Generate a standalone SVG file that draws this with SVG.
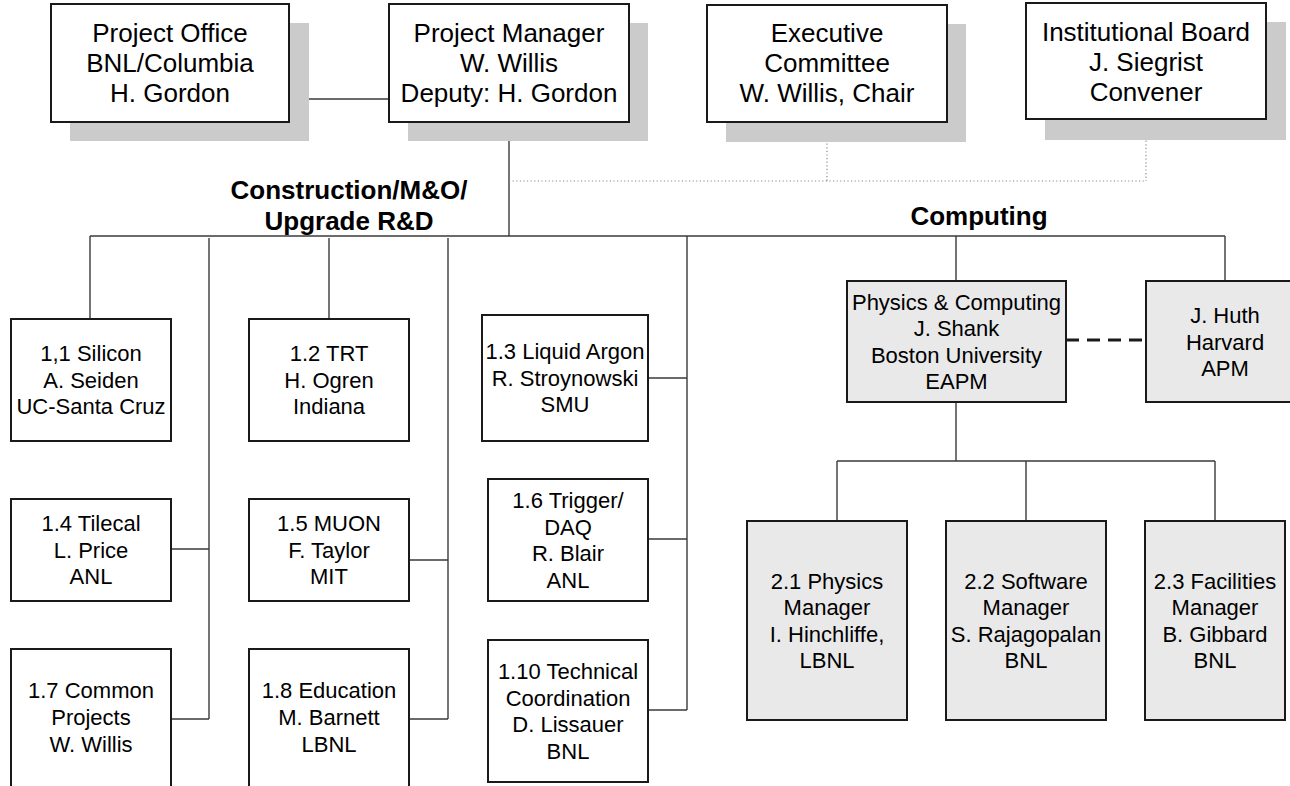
<svg xmlns="http://www.w3.org/2000/svg" width="1290" height="786" viewBox="0 0 1290 786">
<style>
.bg{fill:#ffffff}
.shadow{fill:#cbcbcb;stroke:none}
.box{fill:#ffffff;stroke:#1a1a1a;stroke-width:2}
.gbox{fill:#e9e9e9;stroke:#1a1a1a;stroke-width:2}
.t26{font-family:"Liberation Sans",Arial,sans-serif;font-size:26px;fill:#000;text-anchor:middle}
.t22{font-family:"Liberation Sans",Arial,sans-serif;font-size:22px;fill:#000;text-anchor:middle}
.hd{font-family:"Liberation Sans",Arial,sans-serif;font-size:26px;font-weight:bold;fill:#000;text-anchor:middle}
.ln{fill:none;stroke:#3a3a3a;stroke-width:1.4}
.dot{fill:none;stroke:#8a8a8a;stroke-width:1.2;stroke-dasharray:1.2 2.4}
.dash{fill:none;stroke:#1a1a1a;stroke-width:3;stroke-dasharray:13 8}
</style>
<rect class="bg" x="0" y="0" width="1290" height="786"/>

<g id="connectors">
  <path class="ln" d="M289 99 H389"/>
  <path class="ln" d="M509 122 V236"/>
  <path class="dot" d="M509 181 H1146 M827 122 V181 M1146 119 V181"/>
  <path class="ln" d="M90 236 H1225"/>
  <path class="ln" d="M90 236 V319"/>
  <path class="ln" d="M329 238 V319"/>
  <path class="ln" d="M209 238 V719 M171 549 H209 M171 719 H209"/>
  <path class="ln" d="M448 238 V719 M409 560 H448 M409 719 H448"/>
  <path class="ln" d="M687 236 V710 M648 378 H687 M648 539 H687 M648 710 H687"/>
  <path class="ln" d="M956 236 V281 M1225 236 V281"/>
  <path class="dash" d="M1066 340 H1146"/>
  <path class="ln" d="M956 402 V461 M837 461 H1215 M837 461 V521 M1026 461 V521 M1215 461 V521"/>
</g>

<g id="labels">
  <text class="hd" x="349" y="199">Construction/M&amp;O/</text>
  <text class="hd" x="349" y="230">Upgrade R&amp;D</text>
  <text class="hd" x="979" y="225">Computing</text>
</g>

<g id="project-office">
  <rect class="shadow" x="70" y="23" width="239" height="118"/>
  <rect class="box" x="51" y="4" width="238" height="118"/>
  <text class="t26" x="170" y="42">Project Office</text>
  <text class="t26" x="170" y="72">BNL/Columbia</text>
  <text class="t26" x="170" y="102">H. Gordon</text>
</g>

<g id="project-manager">
  <rect class="shadow" x="408" y="23" width="240" height="118"/>
  <rect class="box" x="389" y="4" width="240" height="118"/>
  <text class="t26" x="509" y="42">Project Manager</text>
  <text class="t26" x="509" y="72">W. Willis</text>
  <text class="t26" x="509" y="102">Deputy: H. Gordon</text>
</g>

<g id="executive-committee">
  <rect class="shadow" x="726" y="24" width="240" height="118"/>
  <rect class="box" x="707" y="5" width="240" height="117"/>
  <text class="t26" x="827" y="42">Executive</text>
  <text class="t26" x="827" y="72">Committee</text>
  <text class="t26" x="827" y="102">W. Willis, Chair</text>
</g>

<g id="institutional-board">
  <rect class="shadow" x="1045" y="22" width="241" height="118"/>
  <rect class="box" x="1026" y="3" width="240" height="116"/>
  <text class="t26" x="1146" y="41">Institutional Board</text>
  <text class="t26" x="1146" y="71">J. Siegrist</text>
  <text class="t26" x="1146" y="101">Convener</text>
</g>

<g id="silicon">
  <rect class="box" x="11" y="319" width="160" height="122"/>
  <text class="t22" x="91" y="361">1,1 Silicon</text>
  <text class="t22" x="91" y="388">A. Seiden</text>
  <text class="t22" x="91" y="414">UC-Santa Cruz</text>
</g>

<g id="trt">
  <rect class="box" x="249" y="319" width="160" height="122"/>
  <text class="t22" x="329" y="361">1.2 TRT</text>
  <text class="t22" x="329" y="388">H. Ogren</text>
  <text class="t22" x="329" y="414">Indiana</text>
</g>

<g id="liquid-argon">
  <rect class="box" x="482" y="315" width="166" height="126"/>
  <text class="t22" x="565" y="359">1.3 Liquid Argon</text>
  <text class="t22" x="565" y="386">R. Stroynowski</text>
  <text class="t22" x="565" y="412">SMU</text>
</g>

<g id="tilecal">
  <rect class="box" x="11" y="499" width="160" height="102"/>
  <text class="t22" x="91" y="531">1.4 Tilecal</text>
  <text class="t22" x="91" y="558">L. Price</text>
  <text class="t22" x="91" y="584">ANL</text>
</g>

<g id="muon">
  <rect class="box" x="249" y="499" width="160" height="102"/>
  <text class="t22" x="329" y="531">1.5 MUON</text>
  <text class="t22" x="329" y="558">F. Taylor</text>
  <text class="t22" x="329" y="584">MIT</text>
</g>

<g id="trigger-daq">
  <rect class="box" x="488" y="479" width="160" height="122"/>
  <text class="t22" x="568" y="508">1.6 Trigger/</text>
  <text class="t22" x="568" y="535">DAQ</text>
  <text class="t22" x="568" y="561">R. Blair</text>
  <text class="t22" x="568" y="588">ANL</text>
</g>

<g id="common-projects">
  <rect class="box" x="11" y="649" width="160" height="150"/>
  <text class="t22" x="91" y="698">1.7 Common</text>
  <text class="t22" x="91" y="725">Projects</text>
  <text class="t22" x="91" y="752">W. Willis</text>
</g>

<g id="education">
  <rect class="box" x="249" y="649" width="160" height="150"/>
  <text class="t22" x="329" y="698">1.8 Education</text>
  <text class="t22" x="329" y="725">M. Barnett</text>
  <text class="t22" x="329" y="752">LBNL</text>
</g>

<g id="technical-coordination">
  <rect class="box" x="488" y="640" width="160" height="142"/>
  <text class="t22" x="568" y="679">1.10 Technical</text>
  <text class="t22" x="568" y="706">Coordination</text>
  <text class="t22" x="568" y="732">D. Lissauer</text>
  <text class="t22" x="568" y="759">BNL</text>
</g>

<g id="physics-computing">
  <rect class="gbox" x="847" y="281" width="219" height="121"/>
  <text class="t22" x="956.5" y="310">Physics &amp; Computing</text>
  <text class="t22" x="956.5" y="336">J. Shank</text>
  <text class="t22" x="956.5" y="363">Boston University</text>
  <text class="t22" x="956.5" y="389">EAPM</text>
</g>

<g id="huth">
  <rect class="gbox" x="1146" y="281" width="160" height="121"/>
  <text class="t22" x="1225" y="323">J. Huth</text>
  <text class="t22" x="1225" y="350">Harvard</text>
  <text class="t22" x="1225" y="376">APM</text>
</g>

<g id="physics-manager">
  <rect class="gbox" x="747" y="521" width="160" height="199"/>
  <text class="t22" x="827" y="589">2.1 Physics</text>
  <text class="t22" x="827" y="615">Manager</text>
  <text class="t22" x="827" y="642">I. Hinchliffe,</text>
  <text class="t22" x="827" y="668">LBNL</text>
</g>

<g id="software-manager">
  <rect class="gbox" x="946" y="521" width="160" height="199"/>
  <text class="t22" x="1026" y="589">2.2 Software</text>
  <text class="t22" x="1026" y="615">Manager</text>
  <text class="t22" x="1026" y="642">S. Rajagopalan</text>
  <text class="t22" x="1026" y="668">BNL</text>
</g>

<g id="facilities-manager">
  <rect class="gbox" x="1145" y="521" width="140" height="199"/>
  <text class="t22" x="1215" y="589">2.3 Facilities</text>
  <text class="t22" x="1215" y="615">Manager</text>
  <text class="t22" x="1215" y="642">B. Gibbard</text>
  <text class="t22" x="1215" y="668">BNL</text>
</g>
</svg>
